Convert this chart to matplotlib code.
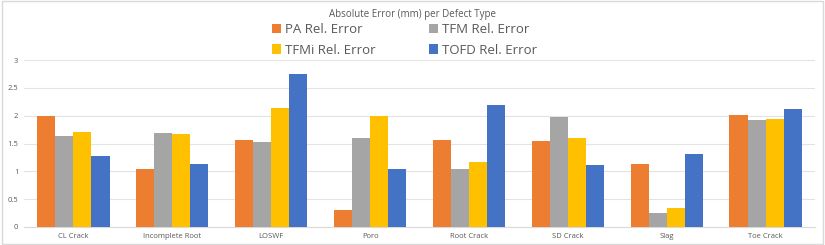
import numpy as np
import matplotlib
matplotlib.use("Agg")
import matplotlib.pyplot as plt
from matplotlib.patches import Rectangle

categories = ["CL Crack", "Incomplete Root", "LOSWF", "Poro", "Root Crack", "SD Crack", "Slag", "Toe Crack"]
pa_err   = [2.00, 1.04, 1.56, 0.31, 1.56, 1.55, 1.13, 2.02]
tfm_err  = [1.63, 1.69, 1.53, 1.59, 1.04, 1.97, 0.25, 1.93]
tfmi_err = [1.70, 1.67, 2.14, 2.00, 1.16, 1.60, 0.35, 1.94]
tofd_err = [1.28, 1.14, 2.74, 1.04, 2.19, 1.11, 1.32, 2.12]
series_names = ["PA Rel. Error", "TFM Rel. Error", "TFMi Rel. Error", "TOFD Rel. Error"]
colors = ["#ED7D31", "#A5A5A5", "#FFC000", "#4472C4"]

plt.rcParams['font.family'] = ['Open Sans', 'DejaVu Sans']

fig = plt.figure(figsize=(8.25, 2.45), dpi=100)
ax = fig.add_axes([0.029, 0.0735, 0.959, 0.6815])

x = np.arange(len(categories))
w = 0.183
handles = []
for i, vals in enumerate([pa_err, tfm_err, tfmi_err, tofd_err]):
    b = ax.bar(x + (i - 1.5) * w, vals, width=w, color=colors[i], label=series_names[i], zorder=3)
    handles.append(b)

ax.set_xlim(-0.5, len(categories) - 0.5)
ax.set_ylim(0, 3)
ax.set_yticks(np.arange(0, 3.01, 0.5))
ax.set_yticklabels(["0", "0.5", "1", "1.5", "2", "2.5", "3"])
ax.set_xticks(x)
ax.set_xticklabels(categories)
ax.tick_params(axis='both', length=0, labelsize=5.5, colors='#595959', pad=4)
ax.grid(axis='y', color='#e3e3e3', linewidth=0.8, zorder=0)
for s in ['top', 'right', 'left']:
    ax.spines[s].set_visible(False)
ax.spines['bottom'].set_color('#d9d9d9')

fig.text(0.5, 0.94, "Absolute Error (mm) per Defect Type", ha='center', va='center',
         fontsize=7, color='#595959')

# legend fills column-wise, so order as PA, TFMi | TFM, TOFD
order = [0, 2, 1, 3]
leg = fig.legend(handles=[handles[k] for k in order], labels=[series_names[k] for k in order],
                 ncol=2, loc='upper left',
                 bbox_to_anchor=(0.33, 0.905), frameon=False, fontsize=9.5,
                 handlelength=0.7, handleheight=0.7, handletextpad=0.3,
                 columnspacing=4.0, labelspacing=0.55, borderaxespad=0, borderpad=0)
for t in leg.get_texts():
    t.set_color('#595959')

fig.patches.append(Rectangle((0.002, 0.004), 0.996, 0.992, transform=fig.transFigure,
                             fill=False, edgecolor='#d9d9d9', linewidth=1))

fig.savefig("out.png", dpi=100)
